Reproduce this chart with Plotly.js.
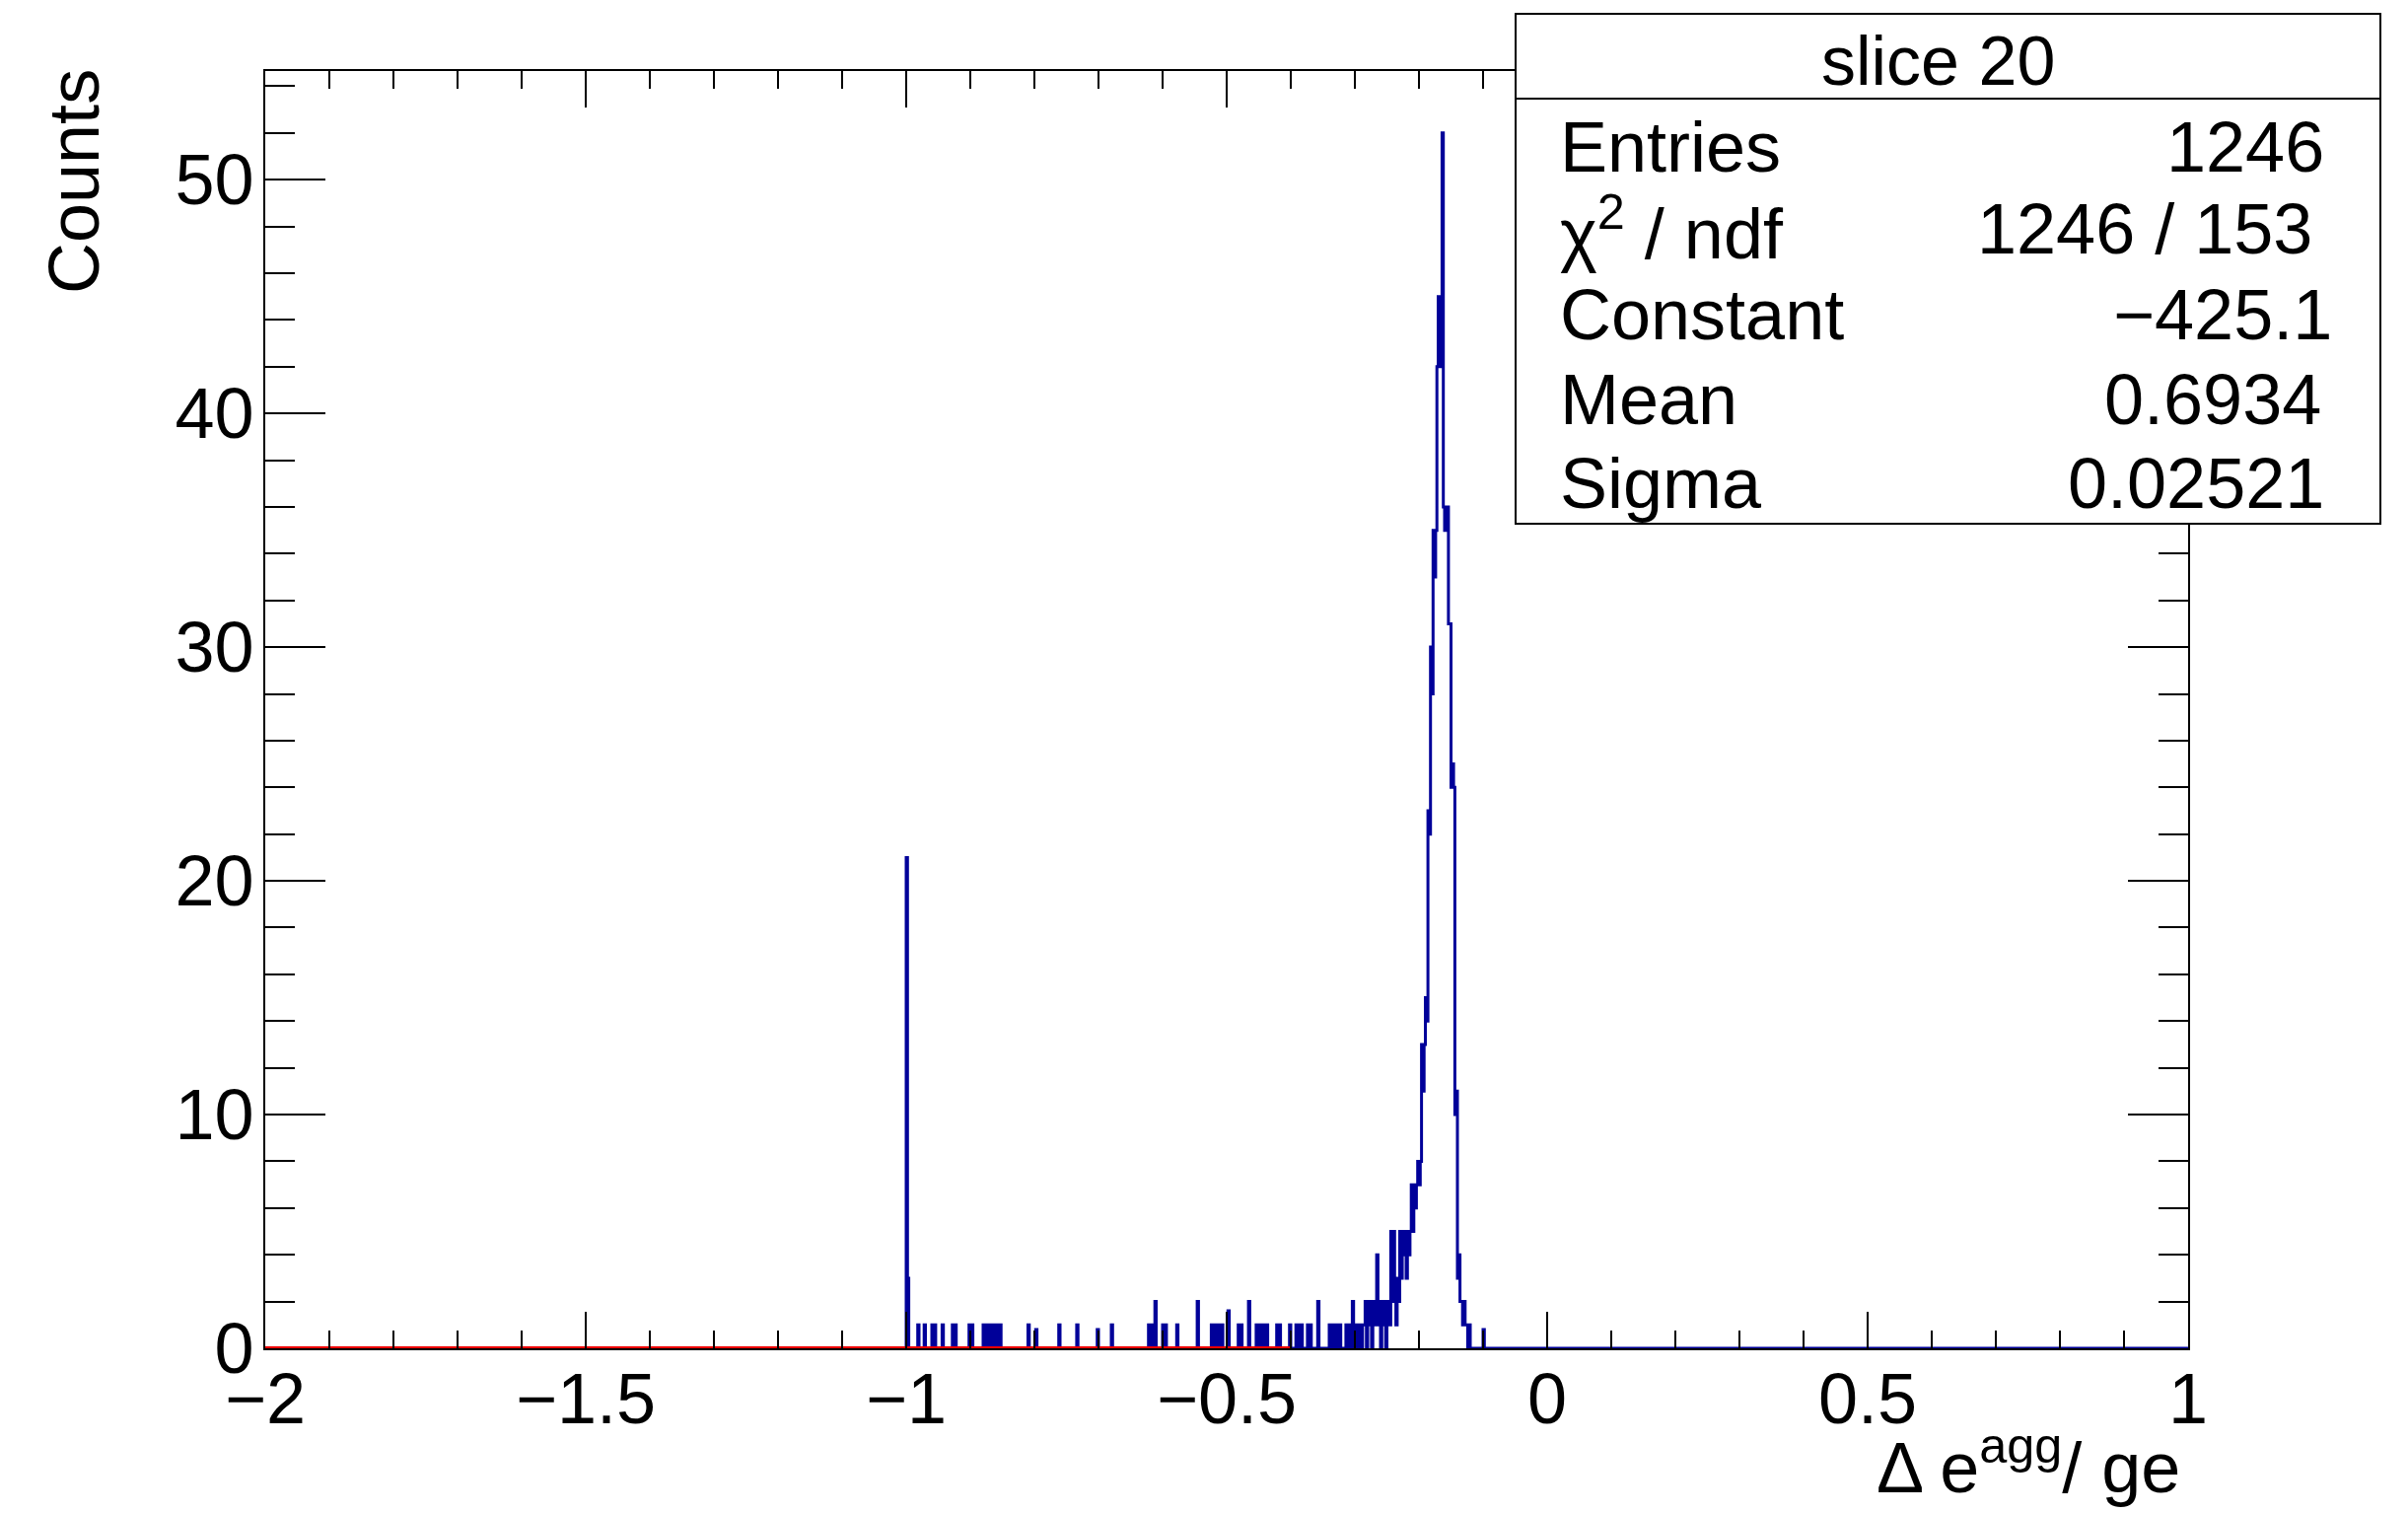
<!DOCTYPE html>
<html><head><meta charset="utf-8">
<script src="https://cdn.plot.ly/plotly-3.0.1.min.js"></script>
<style>html,body{margin:0;padding:0;background:#fff;} #plot{width:2442px;height:1534px;}</style>
</head><body><div id="plot"></div>
<script>
// ---------- data ----------
const histLow = -2, histHigh = 1, nBins = 1500;

// sparse tail bins (lower edge, content)
const tailEdges = [-1.000, -0.998, -0.982, -0.972, -0.960, -0.956, -0.944, -0.928, -0.924, -0.902, -0.898,
  -0.880, -0.876, -0.872, -0.868, -0.864, -0.860, -0.856, -0.854,
  -0.810, -0.798, -0.762, -0.734, -0.702, -0.680,
  -0.622, -0.618, -0.614, -0.612,
  -0.600, -0.596, -0.578, -0.546,
  -0.524, -0.520, -0.516, -0.512, -0.508,
  -0.498, -0.482, -0.478, -0.466,
  -0.454, -0.450, -0.446, -0.442, -0.438,
  -0.422, -0.418, -0.402,
  -0.392, -0.388, -0.384, -0.374, -0.370, -0.358,
  -0.340, -0.336, -0.332, -0.328, -0.324,
  -0.314, -0.310, -0.306, -0.304, -0.300, -0.296, -0.292, -0.288, -0.286,
  -0.100];
const tailCounts = [21, 3, 1, 1, 1, 1, 1, 1, 1, 1, 1,
  1, 1, 1, 1, 1, 1, 1, 1,
  1, 0.8, 1, 1, 0.8, 1,
  1, 1, 1, 2,
  1, 1, 1, 2,
  1, 1, 1, 1, 1,
  1.6, 1, 1, 2,
  1, 1, 1, 1, 1,
  1, 1, 1,
  1, 1, 1, 1, 1, 2,
  1, 1, 1, 1, 1,
  1, 1, 1, 2, 1, 1, 1, 1, 1,
  0.8];

// contiguous peak bins starting at peakStart
const peakStart = -0.284;
const peakCounts = [2, 0, 2, 1, 2, 0, 2, 1, 2, 4, 1, 2, 0, 2, 1, 2, 0, 2, 2, 1,
  5, 2, 5, 3, 1, 3, 2, 5, 3, 5, 4, 5, 3, 5, 4, 5, 7, 5, 7, 6,
  7, 8, 7, 8, 13, 11, 13, 15, 14, 23, 22, 30, 28, 35, 33, 35, 42, 45, 42, 45,
  52, 36, 35, 36, 36, 31, 31, 24, 25, 24, 10, 11, 3, 4, 2, 2, 1, 2, 1, 1,
  0, 1];

// fitted function as drawn (red)
const fitX = [-2, -0.4];
const fitY = [0, 0];

const statsTitle = 'slice 20';
const statsLabels = ['Entries', 'χ<sup>2</sup> / ndf', 'Constant', 'Mean', 'Sigma'];
const statsValues = ['1246', '1246 / 153', '−425.1', '0.6934', '0.02521'];
const xTitle = 'Δ e<sup>agg</sup>/ ge';
const yTitle = 'Counts';

// ---------- build histogram ----------
const binW = (histHigh - histLow) / nBins;
const counts = new Array(nBins).fill(0);
tailEdges.forEach((e, i) => { counts[Math.round((e - histLow) / binW)] += tailCounts[i]; });
const p0 = Math.round((peakStart - histLow) / binW);
peakCounts.forEach((c, i) => { counts[p0 + i] += c; });
const hx = [], hy = [];
for (let k = 0; k <= nBins; k++) { hx.push(histLow + k * binW); hy.push(counts[Math.min(k, nBins - 1)]); }

// ---------- layout helpers (pixel -> paper) ----------
const W = 2442, H = 1534, L = 269, R = 2219, T = 72, B = 1367;
const px = v => (v - L) / (R - L);
const py = v => (B - v) / (B - T);

const FONT = 'Liberation Sans, Arial, Helvetica, sans-serif';

const traces = [
  {x: hx, y: hy, type: 'scatter', mode: 'lines', line: {shape: 'hv', color: '#000099', width: 3, simplify: false}, hoverinfo: 'skip', cliponaxis: false},
  {x: fitX, y: fitY, type: 'scatter', mode: 'lines', line: {color: '#ee0000', width: 4}, hoverinfo: 'skip', cliponaxis: false}
];

const rowY = [149, 232, 319, 405, 490];
const valueRight = [2359, 2347, 2367, 2356, 2359];
const annotations = [
  {text: yTitle, xref: 'paper', yref: 'paper', x: px(75), y: py(68), xanchor: 'center', yanchor: 'top', textangle: -90, showarrow: false, font: {size: 72}},
  {text: xTitle, xref: 'paper', yref: 'paper', x: px(2213), y: py(1530), xanchor: 'right', yanchor: 'bottom', showarrow: false, font: {size: 72}},
  {text: statsTitle, xref: 'paper', yref: 'paper', x: px(1965), y: py(62), xanchor: 'center', yanchor: 'middle', showarrow: false, font: {size: 70}}
];
statsLabels.forEach((t, i) => annotations.push({text: t, xref: 'paper', yref: 'paper', x: px(1580), y: py(rowY[i]), xanchor: 'left', yanchor: 'middle', showarrow: false, font: {size: 72}}));
statsValues.forEach((t, i) => annotations.push({text: t, xref: 'paper', yref: 'paper', x: px(valueRight[i]), y: py(rowY[i]), xanchor: 'right', yanchor: 'middle', showarrow: false, font: {size: 72}}));

const layout = {
  width: W, height: H,
  margin: {l: L, r: W - R, t: T, b: H - B, pad: 0},
  paper_bgcolor: '#ffffff', plot_bgcolor: '#ffffff',
  showlegend: false,
  font: {family: FONT, size: 72, color: '#000'},
  xaxis: {
    range: [histLow, histHigh], tick0: -2, dtick: 0.5, ticks: 'inside', ticklen: 37, tickwidth: 2, tickcolor: '#000',
    showline: true, linewidth: 2, linecolor: '#000', mirror: 'allticks', showgrid: false, zeroline: false,
    tickfont: {family: FONT, size: 72, color: '#000'}, ticklabelstandoff: -12,
    minor: {tick0: -2, dtick: 0.1, ticks: 'inside', ticklen: 18, tickwidth: 2, tickcolor: '#000', showgrid: false}
  },
  yaxis: {
    range: [0, 54.65], tick0: 0, dtick: 10, ticks: 'inside', ticklen: 61, tickwidth: 2, tickcolor: '#000',
    showline: true, linewidth: 2, linecolor: '#000', mirror: 'allticks', showgrid: false, zeroline: false,
    tickfont: {family: FONT, size: 72, color: '#000'}, ticklabelstandoff: -5,
    minor: {tick0: 0, dtick: 2, ticks: 'inside', ticklen: 30, tickwidth: 2, tickcolor: '#000', showgrid: false}
  },
  shapes: [
    {type: 'rect', xref: 'paper', yref: 'paper', x0: px(1537), x1: px(2414), y0: py(531), y1: py(14), fillcolor: '#ffffff', line: {color: '#000', width: 2}, layer: 'above'},
    {type: 'line', xref: 'paper', yref: 'paper', x0: px(1537), x1: px(2414), y0: py(100), y1: py(100), line: {color: '#000', width: 2}, layer: 'above'}
  ],
  annotations: annotations
};

Plotly.newPlot('plot', traces, layout, {staticPlot: true, displayModeBar: false});
</script>
</body></html>
